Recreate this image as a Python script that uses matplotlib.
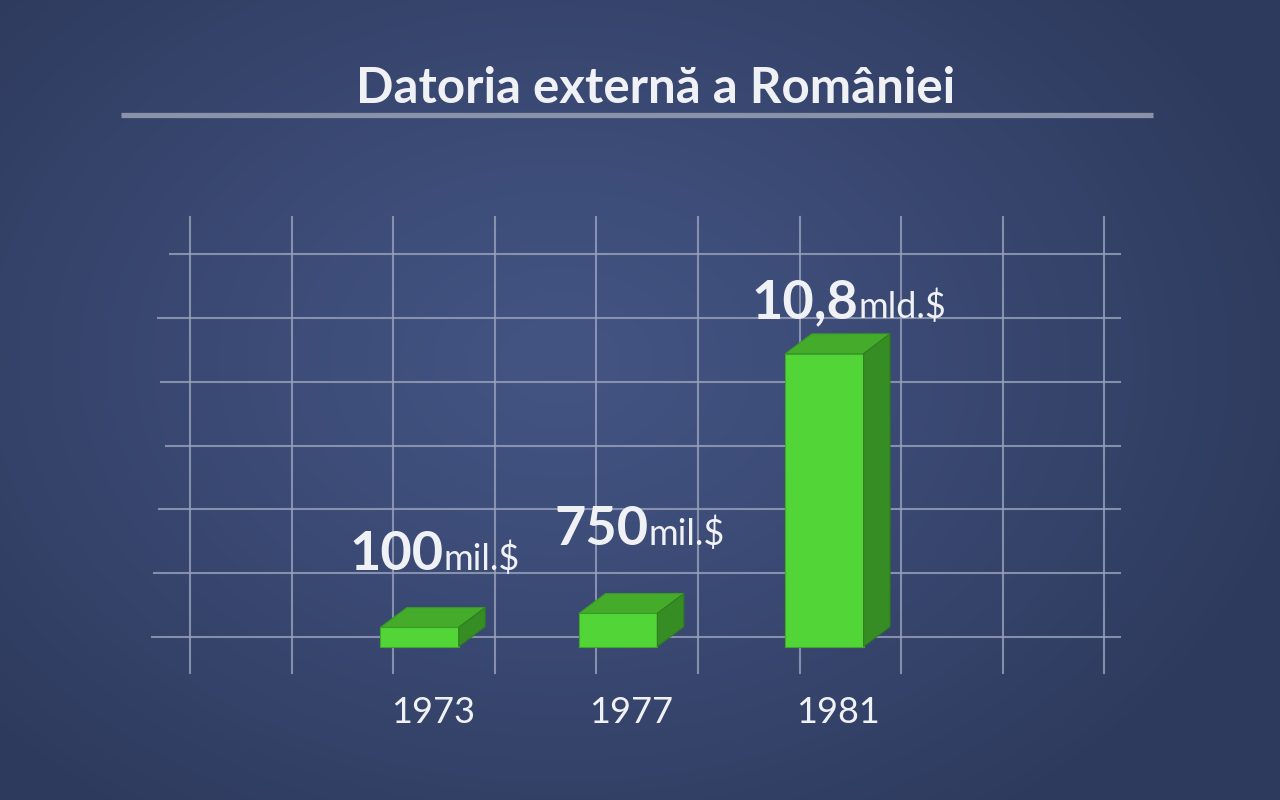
import matplotlib.pyplot as plt
import numpy as np
from matplotlib.patches import Polygon

# data
years = ['1973', '1977', '1981']
value_numbers = ['100', '750', '10,8']
value_units = ['mil.$', 'mil.$', 'mld.$']
# drawn bar heights (grid rows), the infographic is not to scale
bar_heights = [0.30, 0.52, 4.59]

title = 'Datoria externă a României'

# layout (pixels of the 1280x800 picture)
W, H = 1280, 800
X0, XSTEP = 190.0, 101.6      # first vertical grid line, column width
Y0, YSTEP = 646.5, 63.8       # bar baseline, row height
n_cols = 10
n_rows = 7
row_left = [-0.374, -0.354, -0.305, -0.236, -0.285, -0.315, -0.197]
row_offset = (Y0 - 637) / YSTEP
bar_left = [1.875, 3.83, 5.86]
bar_width = 0.77
depth_x, depth_y = 0.26, 0.31
label_dx = [0.62, 0.68, 0.72]
label_dy = [0.90, 1.07, 0.56]

front_col = '#52d637'
top_col = '#44ab2b'
side_col = '#368d24'
text_col = '#f0f1f4'
grid_col = '#9aa3bd'

fig = plt.figure(figsize=(W / 100, H / 100), dpi=100)

# background radial gradient
bg = fig.add_axes([0, 0, 1, 1])
yy, xx = np.mgrid[0:H, 0:W]
r = np.sqrt(((xx - 560) / 760.0) ** 2 + ((yy - 360) / 560.0) ** 2)
r = np.clip(r, 0, 1) ** 1.2
c_in = np.array([67, 84, 131]) / 255.0
c_out = np.array([46, 58, 93]) / 255.0
img = c_in[None, None, :] * (1 - r[..., None]) + c_out[None, None, :] * r[..., None]
bg.imshow(img, extent=(0, W, H, 0), aspect='auto', interpolation='bilinear')
bg.set_xlim(0, W)
bg.set_ylim(H, 0)
bg.axis('off')

# title and underline
bg.text(656, 103, title, ha='center', va='baseline', color=text_col,
        fontsize=35.5, fontweight='bold', family='Lato')
bg.plot([121, 1153], [115, 115], color='#8a92aa', lw=3.8, solid_capstyle='butt')

# chart axes in grid units
xlim = (-0.5, 9.5)
ylim = (-0.6, 7.0)
left_px = X0 + xlim[0] * XSTEP
right_px = X0 + xlim[1] * XSTEP
bottom_px = Y0 - ylim[0] * YSTEP
top_px = Y0 - ylim[1] * YSTEP
ax = fig.add_axes([left_px / W, (H - bottom_px) / H,
                   (right_px - left_px) / W, (bottom_px - top_px) / H])
ax.set_xlim(*xlim)
ax.set_ylim(*ylim)
ax.axis('off')

# grid
v_top = (Y0 - 217) / YSTEP
v_bot = (Y0 - 673) / YSTEP
for i in range(n_cols):
    ax.plot([i, i], [v_bot, v_top], color=grid_col, lw=1.5, alpha=0.8, zorder=1)
for j in range(n_rows):
    yv = row_offset + j
    ax.plot([row_left[j], (1120 - X0) / XSTEP], [yv, yv], color=grid_col,
            lw=1.5, alpha=0.8, zorder=1)

# 3d bars
for i, (yr, h) in enumerate(zip(years, bar_heights)):
    x = bar_left[i]
    ax.bar(x, h, width=bar_width, align='edge', color=front_col,
           edgecolor='#3fa82a', lw=0.8, zorder=3)
    top = Polygon([(x, h), (x + depth_x, h + depth_y),
                   (x + bar_width + depth_x, h + depth_y), (x + bar_width, h)],
                  closed=True, facecolor=top_col, edgecolor='#3a9a26', lw=0.8, zorder=3)
    side = Polygon([(x + bar_width, 0), (x + bar_width + depth_x, depth_y),
                    (x + bar_width + depth_x, h + depth_y), (x + bar_width, h)],
                   closed=True, facecolor=side_col, edgecolor='#2f7d20', lw=0.8, zorder=3)
    ax.add_patch(top)
    ax.add_patch(side)

    # year label under the bar
    cx = x + (bar_width + depth_x) / 2
    ax.text(cx, (Y0 - 723) / YSTEP, yr, ha='center', va='baseline',
            color=text_col, fontsize=26, family='Lato')

    # value label
    lx = x + label_dx[i]
    ly = h + label_dy[i]
    ax.text(lx, ly, value_numbers[i], ha='right', va='baseline', color=text_col,
            fontsize=39, fontweight='bold', family='Lato', zorder=4)
    ax.text(lx, ly, value_units[i], ha='left', va='baseline', color=text_col,
            fontsize=26, family='Lato', zorder=4)

fig.savefig('out.png', dpi=100)
